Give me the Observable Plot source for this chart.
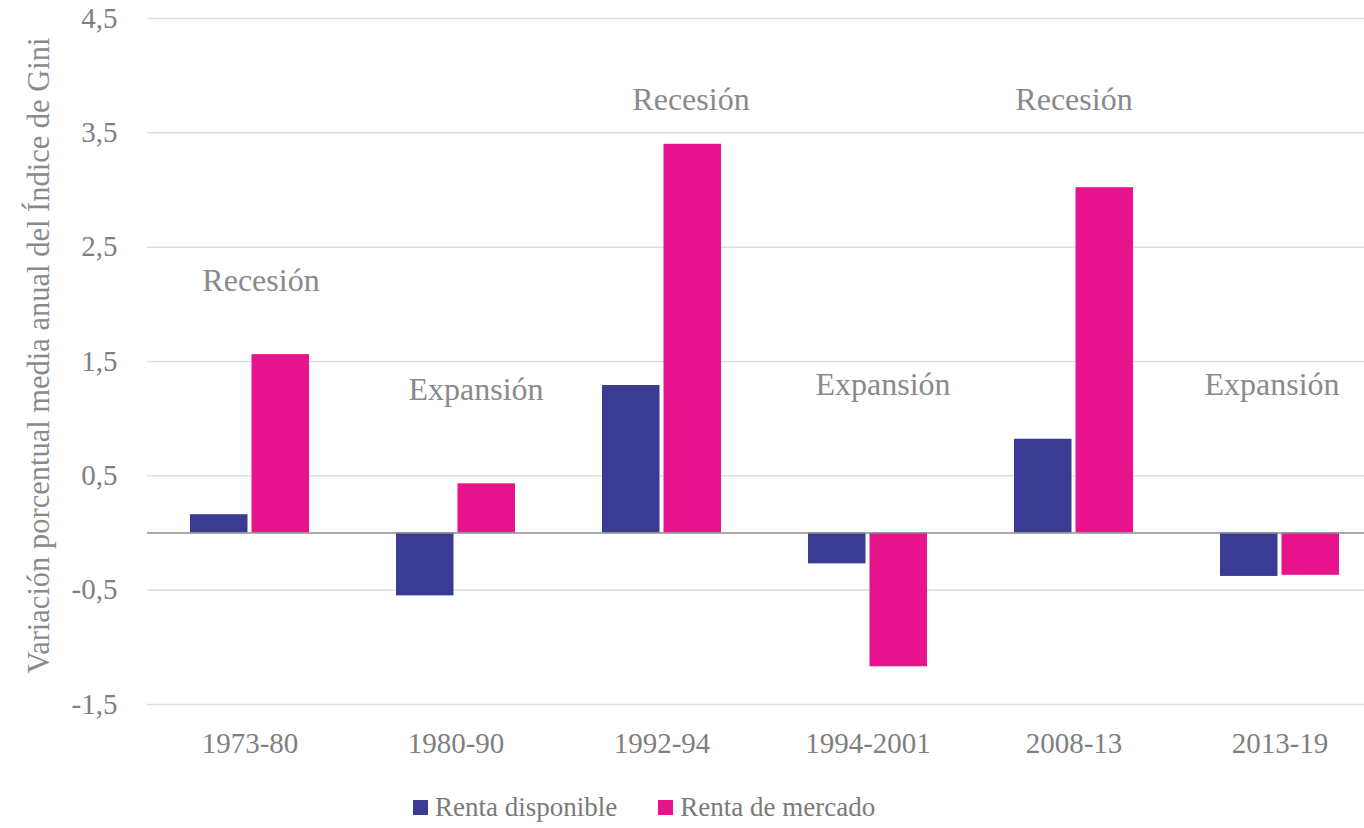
<!DOCTYPE html>
<html><head><meta charset="utf-8">
<script src="https://cdn.jsdelivr.net/npm/d3@7"></script>
<script src="https://cdn.jsdelivr.net/npm/@observablehq/plot@0.6"></script>
<style>
body{margin:0;background:#fff;}
#chart{position:relative;width:1364px;}
#legend{display:flex;justify-content:flex-start;font-family:"Liberation Serif",serif;font-size:27px;color:#7a7a7a;margin-left:413px;margin-top:20px;align-items:center;}
.item{display:flex;align-items:center;margin-right:41px;}
.sw{width:15px;height:15px;margin-right:7px;display:inline-block;}
</style>
</head><body>
<div id="chart"></div>
<script>
const periods = ["1973-80","1980-90","1992-94","1994-2001","2008-13","2013-19"];
const rentaDisponible = [0.16, -0.55, 1.29, -0.27, 0.82, -0.38];
const rentaMercado = [1.56, 0.43, 3.40, -1.17, 3.02, -0.37];
const seriesNames = ["Renta disponible","Renta de mercado"];
const seriesColors = ["#3b3b94","#e6138c"];
const yTicks = [-1.5,-0.5,0.5,1.5,2.5,3.5,4.5];
const annotTexts = ["Recesión","Expansión","Recesión","Expansión","Recesión","Expansión"];
const annotY = [2.21, 1.25, 3.79, 1.30, 3.79, 1.30];
const annotDx = [11, 20, 29, 15, 0, -8];

const disp = periods.map((p,i)=>({period:p, value:rentaDisponible[i]}));
const merc = periods.map((p,i)=>({period:p, value:rentaMercado[i]}));
const annots = periods.map((p,i)=>({period:p, text:annotTexts[i], y:annotY[i], dx:annotDx[i]}));

const fmt = d => d3.format(".1f")(d).replace(".", ",").replace("−","-");
const font = "Liberation Serif, serif";

const plot = Plot.plot({
  width: 1364, height: 772,
  marginLeft: 147, marginRight: -19, marginTop: 18, marginBottom: 68,
  style: {fontFamily: font, background: "#fff", overflow: "visible"},
  x: {domain: periods, paddingInner: 0.42, paddingOuter: 0.21, label: null},
  y: {domain: [-1.5, 4.5], ticks: yTicks, label: null},
  marks: [
    Plot.ruleY(yTicks, {stroke: "#dedede", strokeWidth: 1.5}),
    Plot.barY(disp, {x: "period", y: "value", fill: seriesColors[0], insetRight: 61.5}),
    Plot.barY(merc, {x: "period", y: "value", fill: seriesColors[1], insetLeft: 61.5}),
    Plot.ruleY([0], {stroke: "#8c8c8c", strokeWidth: 1.5}),
    Plot.axisY({ticks: yTicks, tickFormat: fmt, tickSize: 0, tickPadding: 30, fontSize: 29, fill: "#7f7f7f", label: null}),
    Plot.axisX({tickSize: 0, tickPadding: 28, fontSize: 29, fill: "#7f7f7f", label: null}),
    ...annots.map(a => Plot.text([a], {x: "period", y: "y", text: "text", dx: a.dx, fontSize: 32, fill: "#8a8a8a"})),
    Plot.text(["Variación porcentual media anual del Índice de Gini"], {frameAnchor: "left", textAnchor: "middle", dx: -108, dy: -6, rotate: -90, fontSize: 30.5, fill: "#8a8a8a", text: d => d})
  ]
});
document.getElementById("chart").appendChild(plot);

const leg = document.createElement("div");
leg.id = "legend";
seriesNames.forEach((n,i)=>{
  const it = document.createElement("div"); it.className="item";
  const sw = document.createElement("span"); sw.className="sw"; sw.style.background = seriesColors[i];
  it.appendChild(sw); it.appendChild(document.createTextNode(n));
  leg.appendChild(it);
});
document.getElementById("chart").appendChild(leg);
</script>
</body></html>
